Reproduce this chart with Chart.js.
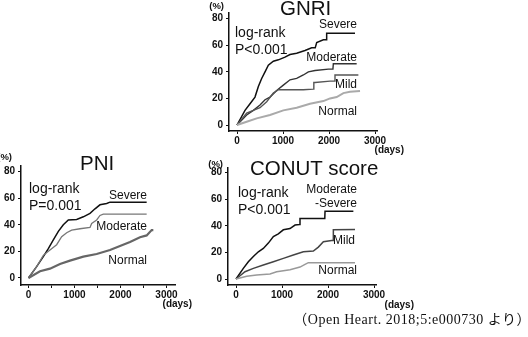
<!DOCTYPE html>
<html>
<head>
<meta charset="utf-8">
<script src="https://cdn.jsdelivr.net/npm/chart.js@4"></script>
<style>
  html, body { margin: 0; padding: 0; background: #fff; }
  body { width: 528px; height: 337px; position: relative; overflow: hidden;
         font-family: 'Liberation Sans', Arial, sans-serif; color: #111; }
  .box { position: absolute; }
  .t { position: absolute; line-height: 1; white-space: nowrap; }
  .title { font-size: 20.5px; }
  .lr { position: absolute; font-size: 14px; line-height: 17px; white-space: nowrap; }
  .sl { font-size: 12px; text-align: right; }
  .unit { font-size: 9.5px; font-weight: bold; }
  .days { font-size: 10px; font-weight: bold; }
  .cap { font-family: 'Liberation Serif', 'Noto Sans CJK JP', serif; font-size: 14px; letter-spacing: 0.5px; }
</style>
</head>
<body>

<div class="box" style="left:190px;top:0;width:215px;height:150px"><canvas id="gnriChart"></canvas></div>
<div class="box" style="left:0;top:150px;width:200px;height:155px"><canvas id="pniChart"></canvas></div>
<div class="box" style="left:190px;top:150px;width:215px;height:155px"><canvas id="conutChart"></canvas></div>

<!-- GNRI -->
<div class="t title" style="left:280px;top:-2.5px">GNRI</div>
<div class="t unit" style="right:304px;top:1px">(%)</div>
<div class="lr" style="left:235px;top:23.5px">log-rank<br>P&lt;0.001</div>
<div class="t sl" style="right:171px;top:18px">Severe</div>
<div class="t sl" style="right:171px;top:50.5px">Moderate</div>
<div class="t sl" style="right:171px;top:77.5px">Mild</div>
<div class="t sl" style="right:171px;top:105px">Normal</div>
<div class="t days" style="right:124px;top:145px">(days)</div>

<!-- PNI -->
<div class="t title" style="left:80px;top:153px">PNI</div>
<div class="t unit" style="right:516px;top:152px">(%)</div>
<div class="lr" style="left:29px;top:180px">log-rank<br>P=0.001</div>
<div class="t sl" style="right:381px;top:188.5px">Severe</div>
<div class="t sl" style="right:381px;top:220px">Moderate</div>
<div class="t sl" style="right:381px;top:254px">Normal</div>
<div class="t days" style="right:336px;top:299px">(days)</div>

<!-- CONUT -->
<div class="t title" style="left:250px;top:158px">CONUT score</div>
<div class="t unit" style="right:305px;top:159px">(%)</div>
<div class="lr" style="left:238px;top:183.5px">log-rank<br>P&lt;0.001</div>
<div class="t sl" style="right:171px;top:182.5px">Moderate</div>
<div class="t sl" style="right:171px;top:196.5px">-Severe</div>
<div class="t sl" style="right:173px;top:234px">Mild</div>
<div class="t sl" style="right:171px;top:264px">Normal</div>
<div class="t days" style="right:114px;top:300px">(days)</div>

<div class="t cap" style="right:-3px;top:313px">（Open Heart. 2018;5:e000730 より）</div>

<script>
// ── Axis ticks ───────────────────────────────────────────
const xTicks = [0, 500, 1000, 1500, 2000, 2500, 3000];
const yTicks = [0, 20, 40, 60, 80];

// ── GNRI (days / cumulative %) ───────────────────────────
const gnriSevereDays   = [0, 174, 283, 391, 464, 536, 609, 681, 790, 900, 1043, 1152, 1297, 1478, 1623, 1700, 1732, 1877, 1940, 1949, 2565];
const gnriSevereRate   = [0, 11, 16, 21, 29, 35, 40, 45, 48, 49, 51, 53, 54, 56, 58, 58, 62, 64, 64, 69, 69];
const gnriModerateDays = [0, 210, 355, 500, 609, 717, 862, 1007, 1152, 1297, 1442, 1551, 1696, 1986, 2085, 2094, 2601];
const gnriModerateRate = [0, 7.5, 11, 15, 19, 21, 26, 30, 34, 35, 37.6, 40, 41, 42, 42, 46, 46];
const gnriMildDays     = [0, 210, 355, 500, 645, 790, 900, 1442, 1659, 1670, 1696, 2022, 2120, 2130, 2638];
const gnriMildRate     = [0, 9, 11, 13, 17.5, 24, 26.5, 26.5, 27, 32, 32, 33, 33, 37.6, 37.6];
const gnriNormalDays   = [0, 210, 428, 717, 1007, 1297, 1587, 1877, 2022, 2167, 2312, 2457, 2674];
const gnriNormalRate   = [0, 2.5, 5, 7.5, 11, 13, 16, 18, 20, 21, 24, 25, 25.6];

// ── PNI ──────────────────────────────────────────────────
const pniSevereDays   = [0, 177, 322, 431, 540, 649, 757, 866, 1047, 1192, 1337, 1446, 1554, 1699, 1772, 2569];
const pniSevereRate   = [0, 8.5, 16, 22, 28.6, 35, 40, 43.6, 44, 46, 48.6, 52, 55, 56, 57, 57];
const pniModerateDays = [0, 177, 322, 467, 612, 721, 830, 938, 1119, 1337, 1373, 1482, 1554, 1627, 2569];
const pniModerateRate = [0, 8.5, 17, 21, 25, 31, 34, 36, 37, 38, 41, 43.6, 47, 48, 48];
const pniNormalDays   = [0, 250, 467, 685, 902, 1192, 1482, 1772, 1989, 2207, 2424, 2569, 2678, 2714];
const pniNormalRate   = [0, 5, 7, 10.5, 13, 16, 18, 21, 24, 27, 30.6, 32, 36, 36];

// ── CONUT score ──────────────────────────────────────────
const conutSevereDays = [0, 159, 268, 377, 486, 594, 703, 812, 920, 1029, 1174, 1283, 1380, 1391, 1899, 1930, 1935, 2551];
const conutSevereRate = [0, 8, 13, 17, 20.5, 23, 27, 32, 34, 37, 38, 40.6, 41, 45.6, 45.6, 45.6, 51, 51];
const conutMildDays   = [0, 196, 377, 594, 812, 1029, 1246, 1464, 1681, 1790, 1899, 2080, 2110, 2116, 2587];
const conutMildRate   = [0, 5.5, 8, 10.5, 13, 15.5, 18, 20.5, 21, 24, 28, 29, 29, 37, 37.3];
const conutNormalDays = [0, 232, 449, 739, 884, 1174, 1391, 1500, 1572, 2587];
const conutNormalRate = [0, 2, 3, 3.8, 5.5, 7, 9, 11, 12.3, 12.3];

const toPoints = (days, rate) => days.map((d, i) => ({ x: d, y: rate[i] }));

const font = { family: "'Liberation Sans', Arial, sans-serif", size: 10, weight: 'bold' };

function kmChart(id, series, frame) {
  new Chart(document.getElementById(id), {
    type: 'line',
    data: {
      datasets: series.map(s => ({
        data:        toPoints(s.days, s.rate),
        borderColor: s.color,
        borderWidth: s.width,
        tension:     0,
        pointRadius: 0,
        fill:        false,
      })),
    },
    options: {
      responsive:          true,
      maintainAspectRatio: false,
      animation:           false,
      layout: { padding: { top: frame.top, right: frame.right, left: 0, bottom: 0 } },
      plugins: { legend: { display: false }, tooltip: { enabled: false } },
      scales: {
        x: {
          type: 'linear',
          min: frame.xMin, max: frame.xMax,
          afterBuildTicks: a => { a.ticks = xTicks.map(v => ({ value: v })); },
          afterFit: a => { a.height = frame.xh; },
          ticks:  { color: '#111', font, padding: 1, maxRotation: 0,
                    callback: v => v % 1000 === 0 ? v : '' },
          grid:   { drawOnChartArea: false, drawTicks: true, tickLength: 3, color: '#111', lineWidth: 1 },
          border: { display: true, color: '#111', width: 1.5 },
        },
        y: {
          min: frame.yMin, max: frame.yMax,
          afterBuildTicks: a => { a.ticks = yTicks.map(v => ({ value: v })); },
          afterFit: a => { a.width = frame.yw; },
          ticks:  { color: '#111', font, padding: 3 },
          grid:   { drawOnChartArea: false, drawTicks: true, tickLength: 3, color: '#111', lineWidth: 1 },
          border: { display: true, color: '#111', width: 1.5 },
        },
      },
    },
  });
}

kmChart('gnriChart', [
  { days: gnriNormalDays,   rate: gnriNormalRate,   color: '#aaaaaa', width: 2 },
  { days: gnriMildDays,     rate: gnriMildRate,     color: '#555555', width: 1.4 },
  { days: gnriModerateDays, rate: gnriModerateRate, color: '#333333', width: 1.4 },
  { days: gnriSevereDays,   rate: gnriSevereRate,   color: '#111111', width: 1.5 },
], { top: 13, right: 28, yw: 39, xh: 19, xMin: -174, xMax: 3043, yMin: -4.5, yMax: 84.2 });

kmChart('pniChart', [
  { days: pniNormalDays,   rate: pniNormalRate,   color: '#666666', width: 2.2 },
  { days: pniModerateDays, rate: pniModerateRate, color: '#777777', width: 1.3 },
  { days: pniSevereDays,   rate: pniSevereRate,   color: '#111111', width: 1.5 },
], { top: 16, right: 25, yw: 21, xh: 20, xMin: -163, xMax: 3185, yMin: -5.3, yMax: 84.2 });

kmChart('conutChart', [
  { days: conutNormalDays, rate: conutNormalRate, color: '#999999', width: 1.5 },
  { days: conutMildDays,   rate: conutMildRate,   color: '#444444', width: 1.5 },
  { days: conutSevereDays, rate: conutSevereRate, color: '#111111', width: 1.5 },
], { top: 18, right: 29, yw: 38, xh: 20, xMin: -174, xMax: 3043, yMin: -4.5, yMax: 83.5 });
</script>
</body>
</html>
